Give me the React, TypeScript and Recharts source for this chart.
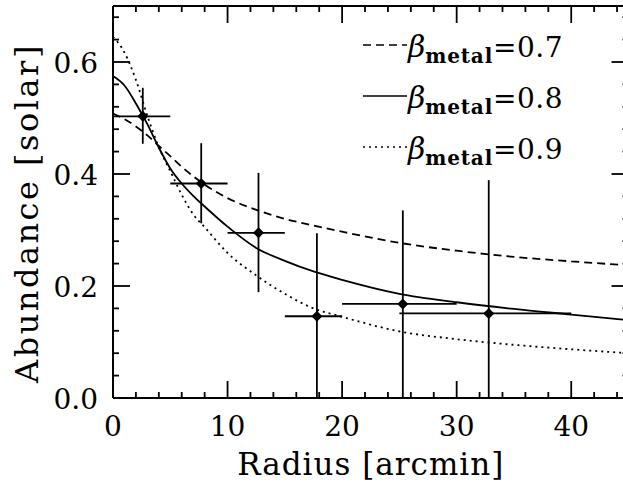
import React from "react";
import { ComposedChart, Line, Scatter, ErrorBar, XAxis, YAxis, Legend, ReferenceLine } from "recharts";

// model curves
const radius = [0, 1, 2, 3, 4, 5, 6, 7, 8, 10, 12.5, 15, 17.5, 20, 25, 30, 35, 40, 45];
const beta07 = [0.508, 0.498, 0.485, 0.469, 0.45, 0.432, 0.413, 0.396, 0.381, 0.357, 0.336, 0.32, 0.308, 0.297, 0.277, 0.263, 0.252, 0.244, 0.237];
const beta08 = [0.575, 0.558, 0.526, 0.489, 0.447, 0.41, 0.383, 0.361, 0.342, 0.306, 0.268, 0.245, 0.226, 0.211, 0.186, 0.171, 0.159, 0.149, 0.139];
const beta09 = [0.645, 0.617, 0.568, 0.504, 0.448, 0.405, 0.363, 0.328, 0.305, 0.259, 0.219, 0.186, 0.16, 0.145, 0.119, 0.105, 0.095, 0.087, 0.08];

// measured abundances
const pointRadius = [2.6, 7.7, 12.7, 17.8, 25.3, 32.8];
const pointAbundance = [0.503, 0.383, 0.295, 0.146, 0.168, 0.151];
const radiusErr = [[2.6, 2.4], [2.7, 2.3], [2.7, 2.3], [2.8, 2.2], [5.3, 4.7], [7.8, 7.2]];
const abundanceErr = [[0.049, 0.051], [0.071, 0.072], [0.106, 0.107], [0.146, 0.148], [0.168, 0.167], [0.151, 0.238]];

const betaLabels = ["0.7", "0.8", "0.9"];

const xMajor = [0, 10, 20, 30, 40];
const xAll = [0, 2, 4, 6, 8, 10, 12, 14, 16, 18, 20, 22, 24, 26, 28, 30, 32, 34, 36, 38, 40, 42, 44];
const yMajor = [0, 0.2, 0.4, 0.6];
const yAll = [0, 0.04, 0.08, 0.12, 0.16, 0.2, 0.24, 0.28, 0.32, 0.36, 0.4, 0.44, 0.48, 0.52, 0.56, 0.6, 0.64, 0.68];
const xMax = 45;
const yMax = 0.7;

const curveData = radius.map((r, i) => ({ r, b07: beta07[i], b08: beta08[i], b09: beta09[i] }));
const points = pointRadius.map((r, i) => ({ r, a: pointAbundance[i], xErr: radiusErr[i], yErr: abundanceErr[i] }));

const FONT = "'DejaVu Serif', serif";
const W = 630;
const H = 486;
const MARGIN = { top: 6, right: 1.5, bottom: 0, left: 0 };
const X_AXIS_H = 88;
const Y_AXIS_W = 113;
const PLOT_W = W - MARGIN.left - MARGIN.right - Y_AXIS_W;
const PLOT_H = H - MARGIN.top - MARGIN.bottom - X_AXIS_H;

const isMajor = (list: number[], v: number) => list.some((m) => Math.abs(m - v) < 1e-6);

// bottom ticks also mirror onto the top of the frame
function XTick(props: any) {
  const { x, y, payload } = props;
  const major = isMajor(xMajor, payload.value);
  const len = major ? 17 : 6;
  const top = y - PLOT_H;
  return (
    <g>
      <line x1={x} x2={x} y1={y} y2={y - len} stroke="#000" strokeWidth={1.8} />
      <line x1={x} x2={x} y1={top} y2={top + len} stroke="#000" strokeWidth={1.8} />
      {major && (
        <text x={x} y={y + 38} textAnchor="middle" fontSize={28} fontFamily={FONT} fill="#000">
          {payload.value}
        </text>
      )}
    </g>
  );
}

// left ticks also mirror onto the right of the frame
function YTick(props: any) {
  const { x, y, payload } = props;
  const major = isMajor(yMajor, payload.value);
  const len = major ? 17 : 6;
  const right = x + PLOT_W;
  return (
    <g>
      <line x1={x} x2={x + len} y1={y} y2={y} stroke="#000" strokeWidth={1.8} />
      <line x1={right} x2={right - len} y1={y} y2={y} stroke="#000" strokeWidth={1.8} />
      {major && (
        <text x={x - 15} y={y + 11} textAnchor="end" fontSize={28} fontFamily={FONT} fill="#000">
          {payload.value.toFixed(1)}
        </text>
      )}
    </g>
  );
}

function Diamond(props: any) {
  const { cx, cy } = props;
  const s = 5.5;
  return <polygon points={`${cx},${cy - s} ${cx + s},${cy} ${cx},${cy + s} ${cx - s},${cy}`} fill="#000" />;
}

function BetaLegend(props: any) {
  const items = (props.payload || []).filter((p: any) => p.type !== "none");
  return (
    <svg width={260} height={160} style={{ display: "block" }}>
      {items.map((item: any, i: number) => {
        const y = 25 + i * 51;
        return (
          <g key={i}>
            <line x1={0} x2={44} y1={y} y2={y} stroke="#000" strokeWidth={1.6} strokeDasharray={item.payload?.strokeDasharray} />
            <text x={45} y={y + 12} fontFamily={FONT} fill="#000">
              <tspan fontSize={30} fontStyle="italic">β</tspan>
              <tspan fontSize={20} fontWeight="bold" dy={6} letterSpacing={0.8}>metal</tspan>
              <tspan fontSize={28} dy={-6} letterSpacing={0.5}>={item.value}</tspan>
            </text>
          </g>
        );
      })}
    </svg>
  );
}

export default function App() {
  return (
    <div style={{ position: "absolute", left: 0, top: 0, width: 623, height: 486, overflow: "hidden", background: "#fff" }}>
      <ComposedChart width={W} height={H} data={curveData} margin={MARGIN}>
        <XAxis
          dataKey="r"
          type="number"
          domain={[0, xMax]}
          allowDataOverflow
          ticks={xAll}
          interval={0}
          height={X_AXIS_H}
          tickSize={0}
          tickMargin={0}
          tickLine={false}
          tick={<XTick />}
          axisLine={{ stroke: "#000", strokeWidth: 2 }}
          label={{ value: "Radius [arcmin]", position: "insideBottom", offset: 11, fontSize: 31, letterSpacing: 1, fill: "#000", fontFamily: FONT }}
        />
        <YAxis
          type="number"
          domain={[0, yMax]}
          allowDataOverflow
          ticks={yAll}
          interval={0}
          width={Y_AXIS_W}
          tickSize={0}
          tickMargin={0}
          tickLine={false}
          tick={<YTick />}
          axisLine={{ stroke: "#000", strokeWidth: 2 }}
          label={{
            content: (p: any) => {
              const vb = p.viewBox;
              const cx = vb.x + 38;
              const cy = vb.y + vb.height / 2 + 11;
              return (
                <text x={cx} y={cy} transform={`rotate(-90 ${cx} ${cy})`} textAnchor="middle" fontSize={32} letterSpacing={2.5} fontFamily={FONT} fill="#000">
                  Abundance [solar]
                </text>
              );
            },
          }}
        />
        {/* top and right sides of the frame */}
        <ReferenceLine y={yMax} stroke="#000" strokeWidth={2.2} ifOverflow="visible" />
        <ReferenceLine x={xMax} stroke="#000" strokeWidth={2.2} ifOverflow="visible" />
        <Legend
          layout="vertical"
          align="center"
          verticalAlign="middle"
          content={<BetaLegend />}
          wrapperStyle={{ left: 363, top: 20, width: 260, height: 160 }}
        />
        <Line type="monotone" dataKey="b07" name={betaLabels[0]} stroke="#000" strokeWidth={1.8} strokeDasharray="8 5" dot={false} isAnimationActive={false} />
        <Line type="monotone" dataKey="b08" name={betaLabels[1]} stroke="#000" strokeWidth={1.8} dot={false} isAnimationActive={false} />
        <Line type="monotone" dataKey="b09" name={betaLabels[2]} stroke="#000" strokeWidth={1.8} strokeDasharray="2 4" dot={false} isAnimationActive={false} />
        <Scatter data={points} dataKey="a" legendType="none" shape={<Diamond />} isAnimationActive={false}>
          <ErrorBar dataKey="xErr" direction="x" width={0} stroke="#000" strokeWidth={1.8} />
          <ErrorBar dataKey="yErr" direction="y" width={0} stroke="#000" strokeWidth={1.8} />
        </Scatter>
      </ComposedChart>
    </div>
  );
}
